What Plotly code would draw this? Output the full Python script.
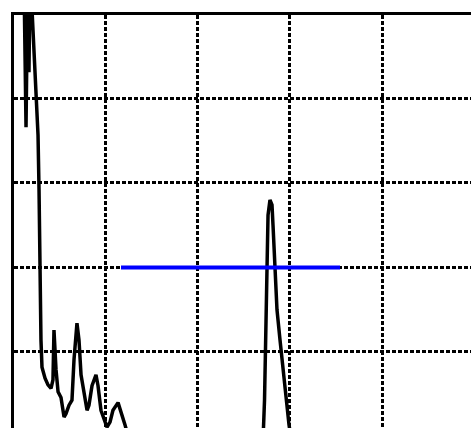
import plotly.graph_objects as go

# Spectrum trace (arbitrary units); values above/below the axis window are clipped
spec_x = [1.19, 1.30, 1.41, 1.52, 1.63, 1.73, 1.84, 1.95, 2.06, 2.28, 2.49, 2.71,
          2.82, 2.93, 3.03, 3.14, 3.47, 3.79, 4.12, 4.33, 4.44, 4.66, 4.88, 5.20,
          5.53, 5.74, 6.07, 6.39, 6.61, 6.93, 7.15, 7.37, 7.69, 8.02, 8.23, 8.56,
          8.99, 9.21, 9.53, 9.86, 10.18, 10.51, 10.83, 11.38, 11.70, 12.13, 12.57,
          13.2, 15.0, 18.0, 21.0, 24.0, 26.5, 27.09, 27.25, 27.41, 27.52, 27.63,
          27.84, 28.06, 28.17, 28.39, 28.60, 28.93, 29.25, 29.58, 29.90, 30.23,
          31.0, 35.0, 40.0, 45.0, 49.6]
spec_y = [54.0, 44.6, 36.6, 46.9, 54.0, 43.1, 54.0, 52.0, 50.5, 45.7, 42.2, 35.7,
          29.2, 17.3, 11.4, 8.2, 6.9, 6.1, 5.7, 6.7, 12.6, 7.9, 5.3, 4.6,
          2.3, 2.7, 3.7, 4.3, 9.1, 13.4, 11.4, 7.3, 4.9, 3.1, 3.7, 6.0,
          7.3, 6.0, 3.1, 2.0, 1.1, 1.7, 3.1, 4.0, 3.0, 1.4, -0.4,
          -2.0, -3.0, -2.5, -3.5, -3.0, -2.0, -0.4, 4.3, 12.6, 22.1, 26.2,
          28.0, 27.4, 25.0, 19.7, 15.0, 11.4, 7.9, 4.3, 1.4, -1.0,
          -3.0, -3.5, -3.0, -4.0, -3.5]

# Horizontal reference level
ref_x = [11.70, 35.43]
ref_y = [20.0, 20.0]

fig = go.Figure()
fig.add_trace(go.Scatter(x=spec_x, y=spec_y, mode="lines",
                         line=dict(color="black", width=3.5), showlegend=False))
fig.add_trace(go.Scatter(x=ref_x, y=ref_y, mode="lines",
                         line=dict(color="#0000ff", width=4), showlegend=False))

grid = dict(showgrid=True, gridcolor="black", gridwidth=3, griddash="4px,2px",
            zeroline=False, showticklabels=False, ticks="",
            showline=True, linecolor="black", linewidth=2.5, dtick=10, tick0=0)

fig.update_xaxes(range=[0.108, 49.62], side="top", **grid)
fig.update_yaxes(range=[1.0, 49.88], **grid)

fig.update_layout(width=471, height=428,
                  margin=dict(l=14, t=15, r=0, b=0, pad=0),
                  plot_bgcolor="white", paper_bgcolor="white")

fig.write_html("out.html")
